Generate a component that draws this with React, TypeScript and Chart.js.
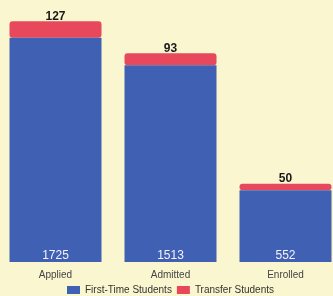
import React, { useEffect, useRef } from "react";
import { Chart, registerables } from "chart.js";

Chart.register(...registerables);

const categories = ["Applied", "Admitted", "Enrolled"];
const firstTime = [1725, 1513, 552];
const transfer = [127, 93, 50];
const seriesNames = ["First-Time Students", "Transfer Students"];

const BG = "#FAF6CF";
const BLUE = "#4060B4";
const RED = "#E8485C";

const labelPlugin = {
  id: "valueLabels",
  afterDatasetsDraw(chart: any) {
    const ctx = chart.ctx;
    const m0 = chart.getDatasetMeta(0);
    const m1 = chart.getDatasetMeta(1);
    ctx.save();
    ctx.textAlign = "center";
    m0.data.forEach((bar: any, i: number) => {
      ctx.fillStyle = "#F4F4F8";
      ctx.font = "12px 'Liberation Sans', Arial, sans-serif";
      ctx.textBaseline = "middle";
      ctx.fillText(String(firstTime[i]), bar.x, bar.base - 6);
    });
    m1.data.forEach((bar: any, i: number) => {
      ctx.fillStyle = "#1a1a1a";
      ctx.font = "bold 12px 'Liberation Sans', Arial, sans-serif";
      ctx.textBaseline = "bottom";
      ctx.fillText(String(transfer[i]), bar.x, bar.y + 1);
    });
    ctx.restore();
  },
};

export default function App() {
  const ref = useRef<HTMLCanvasElement | null>(null);
  useEffect(() => {
    document.body.style.margin = "0";
    document.body.style.overflow = "hidden";
    document.body.style.background = BG;
    const chart = new Chart(ref.current as HTMLCanvasElement, {
      type: "bar",
      data: {
        labels: categories,
        datasets: [
          {
            label: seriesNames[0],
            data: firstTime,
            backgroundColor: BLUE,
            borderRadius: 3,
            borderSkipped: false,
            borderWidth: 0,
          },
          {
            label: seriesNames[1],
            data: transfer,
            backgroundColor: RED,
            borderRadius: 3,
            borderSkipped: false,
            borderWidth: 0,
          },
        ],
      },
      options: {
        responsive: false,
        animation: false,
        layout: { padding: { top: 2, left: 0, right: 0, bottom: 0 } },
        datasets: { bar: { barPercentage: 0.8, categoryPercentage: 1 } },
        scales: {
          x: {
            stacked: true,
            grid: { display: false },
            border: { display: false },
            ticks: {
              padding: 0,
              color: "#444",
              font: { size: 10, lineHeight: 1, family: "'Liberation Sans', Arial, sans-serif" },
            },
          },
          y: {
            stacked: true,
            display: false,
            min: 0,
            max: 2000,
          },
        },
        plugins: {
          legend: {
            position: "bottom",
            labels: {
              boxWidth: 13,
              boxHeight: 8,
              padding: 5,
              color: "#333",
              font: { size: 10, lineHeight: 1, family: "'Liberation Sans', Arial, sans-serif" },
            },
          },
          tooltip: { enabled: false },
        },
      },
      plugins: [labelPlugin],
    });
    return () => chart.destroy();
  }, []);
  return (
    <div style={{ position: "absolute", left: -2, top: 0, width: 345, height: 296, overflow: "hidden", background: BG }}>
      <canvas ref={ref} width={345} height={305} style={{ display: "block" }} />
    </div>
  );
}
